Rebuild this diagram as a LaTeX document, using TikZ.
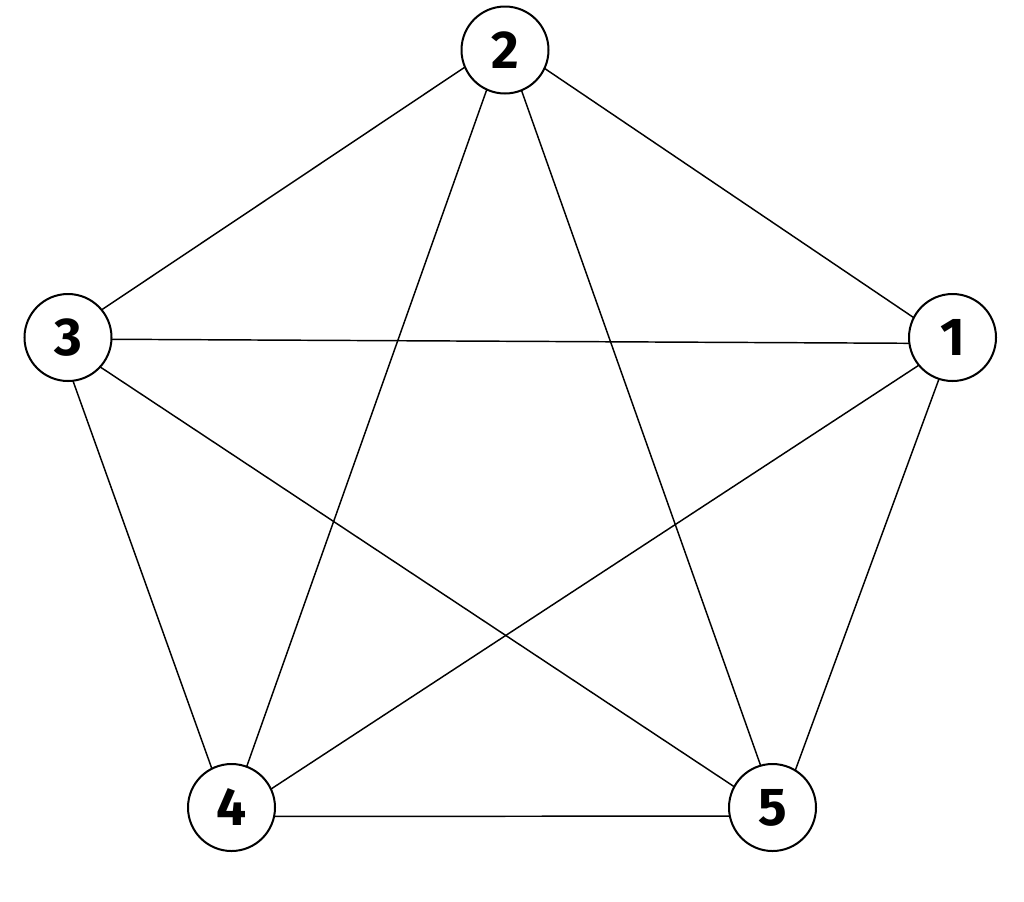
\documentclass[tikz,border=0pt]{standalone}
\usepackage{fontspec}
\setmainfont{Fira Sans}
\usetikzlibrary{backgrounds}
\begin{document}
\begin{tikzpicture}[x=0.75pt,y=-0.75pt,
  vertex/.style={circle,draw=black,fill=white,line width=1.5pt,minimum size=65.25pt,inner sep=0pt,
    font=\fontsize{40}{40}\selectfont\bfseries},
  edge/.style={draw=black,line width=1.1pt}]
\useasboundingbox (0,0) rectangle (1024,901);
\node[vertex] (n1) at (952.5,337.5) {1};
\node[vertex] (n2) at (505,50) {2};
\node[vertex] (n3) at (68,337.5) {3};
\node[vertex] (n4) at (231.5,807.5) {4};
\node[vertex] (n5) at (772.5,807.5) {5};
\begin{pgfonlayer}{background}
\fill[white] (0,0) rectangle (1024,901);
\draw[edge] ([shift={(-0.5,6)}]n1.center) -- ([shift={(-1,-9)}]n2.center);
\draw[edge] ([shift={(-0.5,6)}]n1.center) -- ([shift={(-10,1.5)}]n3.center);
\draw[edge] ([shift={(-0.5,6)}]n1.center) -- ([shift={(-2.5,9)}]n4.center);
\draw[edge] ([shift={(-0.5,6)}]n1.center) -- ([shift={(6,8.5)}]n5.center);
\draw[edge] ([shift={(-1,-9)}]n2.center) -- ([shift={(-10,1.5)}]n3.center);
\draw[edge] ([shift={(-1,-9)}]n2.center) -- ([shift={(-2.5,9)}]n4.center);
\draw[edge] ([shift={(-1,-9)}]n2.center) -- ([shift={(6,8.5)}]n5.center);
\draw[edge] ([shift={(-10,1.5)}]n3.center) -- ([shift={(-2.5,9)}]n4.center);
\draw[edge] ([shift={(-10,1.5)}]n3.center) -- ([shift={(6,8.5)}]n5.center);
\draw[edge] ([shift={(-2.5,9)}]n4.center) -- ([shift={(6,8.5)}]n5.center);
\end{pgfonlayer}
\end{tikzpicture}
\end{document}
